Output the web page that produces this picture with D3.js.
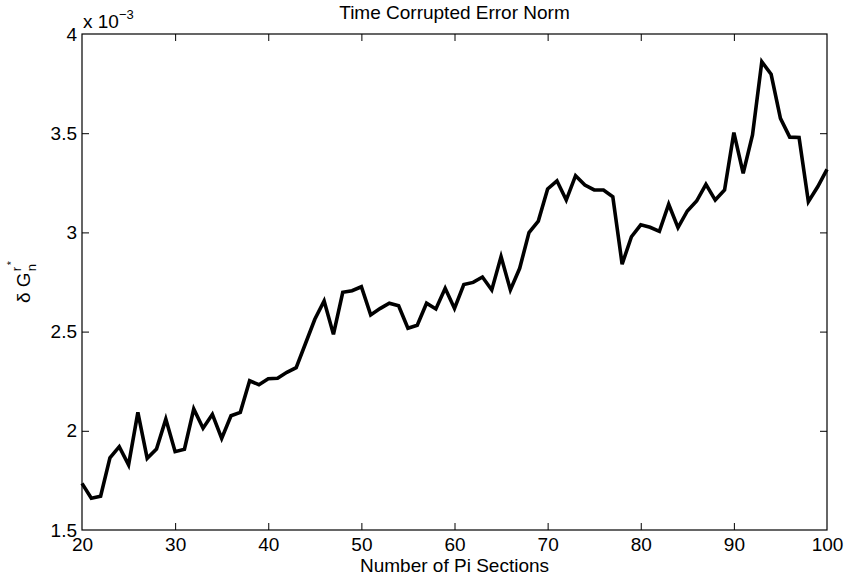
<!DOCTYPE html>
<html>
<head>
<meta charset="utf-8">
<script src="https://cdn.jsdelivr.net/npm/d3@7"></script>
<style>
  html, body { margin: 0; padding: 0; background: #fff; }
  svg { display: block; }
  text { font-family: "Liberation Sans", Arial, Helvetica, sans-serif; fill: #000; }
</style>
</head>
<body>
<svg id="chart" width="845" height="580"></svg>
<script>
// ---- data (values in units of 1e-3) ----
const sections = d3.range(20, 101);
const errorNorm = [
  1.735, 1.660, 1.670, 1.864, 1.920, 1.828, 2.093, 1.861, 1.908, 2.059,
  1.895, 1.907, 2.110, 2.013, 2.083, 1.962, 2.076, 2.093, 2.252, 2.232,
  2.262, 2.265, 2.295, 2.318, 2.440, 2.562, 2.654, 2.486, 2.698, 2.706,
  2.726, 2.584, 2.616, 2.643, 2.630, 2.517, 2.532, 2.643, 2.614, 2.718,
  2.617, 2.737, 2.748, 2.775, 2.710, 2.878, 2.710, 2.819, 2.999, 3.057,
  3.219, 3.260, 3.163, 3.286, 3.239, 3.214, 3.214, 3.180, 2.840, 2.978,
  3.038, 3.026, 3.005, 3.142, 3.024, 3.108, 3.158, 3.242, 3.163, 3.214,
  3.503, 3.298, 3.491, 3.860, 3.797, 3.575, 3.480, 3.478, 3.155, 3.230,
  3.318
];
const xTicks = [20, 30, 40, 50, 60, 70, 80, 90, 100];
const yTicks = [1.5, 2, 2.5, 3, 3.5, 4];
const yTickLabels = ["1.5", "2", "2.5", "3", "3.5", "4"];
const titleText = "Time Corrupted Error Norm";
const xLabelText = "Number of Pi Sections";

// ---- layout ----
const L = 82, R = 827, T = 34, B = 530;
const FS = 19;
const svg = d3.select("#chart");

const x = d3.scaleLinear().domain([20, 100]).range([L, R]);
const y = d3.scaleLinear().domain([1.5, 4]).range([B, T]);

// line
const line = d3.line().x((d, i) => x(sections[i])).y(d => y(d));
svg.append("path")
  .datum(errorNorm)
  .attr("d", line)
  .attr("fill", "none")
  .attr("stroke", "#000")
  .attr("stroke-width", 3.6);

// axes with inward ticks (box)
const tickLen = 7;
const axisBottom = d3.axisBottom(x).tickValues(xTicks).tickSizeInner(-tickLen).tickSizeOuter(0).tickPadding(8);
const axisTop = d3.axisTop(x).tickValues(xTicks).tickSizeInner(-tickLen).tickSizeOuter(0).tickFormat("");
const axisLeft = d3.axisLeft(y).tickValues(yTicks).tickSizeInner(-tickLen).tickSizeOuter(0).tickPadding(5)
  .tickFormat((d, i) => yTickLabels[i]);
const axisRight = d3.axisRight(y).tickValues(yTicks).tickSizeInner(-tickLen).tickSizeOuter(0).tickFormat("");

function styleAxis(g) {
  g.select(".domain").remove();
  g.selectAll(".tick line").attr("stroke", "#000").attr("stroke-width", 1);
  g.selectAll(".tick text").attr("font-size", FS).attr("fill", "#000")
    .style("font-family", '"Liberation Sans", Arial, Helvetica, sans-serif');
}
svg.append("g").attr("transform", `translate(0,${B})`).call(axisBottom).call(styleAxis);
svg.append("g").attr("transform", `translate(0,${T})`).call(axisTop).call(styleAxis);
svg.append("g").attr("transform", `translate(${L},0)`).call(axisLeft).call(styleAxis);
svg.append("g").attr("transform", `translate(${R},0)`).call(axisRight).call(styleAxis);

// remove end ticks that overlap the frame
svg.selectAll(".tick").filter(d => d === 20 || d === 100 || d === 1.5 || d === 4).select("line").remove();

// frame
svg.append("rect")
  .attr("x", L).attr("y", T).attr("width", R - L).attr("height", B - T)
  .attr("fill", "none").attr("stroke", "#000").attr("stroke-width", 1.2);

// title
svg.append("text").attr("x", (L + R) / 2).attr("y", 18.5)
  .attr("text-anchor", "middle").attr("font-size", FS).text(titleText);

// x label
svg.append("text").attr("x", (L + R) / 2).attr("y", 572)
  .attr("text-anchor", "middle").attr("font-size", FS).text(xLabelText);

// exponent label
const ex = svg.append("text").attr("x", 83).attr("y", 28).attr("font-size", FS);
ex.append("tspan").text("x 10");
ex.append("tspan").attr("font-size", 13).attr("dy", -9).text("\u22123");

// y label (rotated)
const yl = svg.append("g").attr("transform", "translate(30,282) rotate(-90)");
const main = yl.append("text").attr("x", -21).attr("y", 0).attr("font-size", FS).text("\u03B4 G");
const mw = main.node().getComputedTextLength();
const sx = -21 + mw + 1;
yl.append("text").attr("x", sx).attr("y", -9).attr("font-size", 13).text("r");
yl.append("text").attr("x", sx + 6).attr("y", -15).attr("font-size", 11).text("*");
yl.append("text").attr("x", sx).attr("y", 6).attr("font-size", 13).text("n");
</script>
</body>
</html>
